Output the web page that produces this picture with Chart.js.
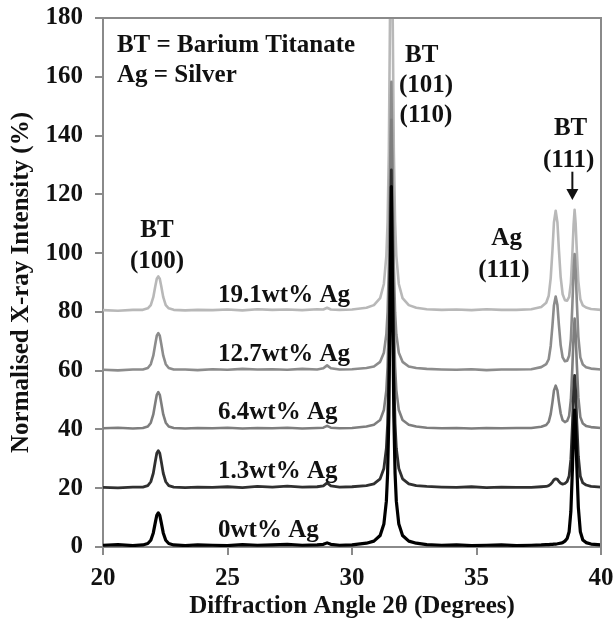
<!DOCTYPE html>
<html>
<head>
<meta charset="utf-8">
<script src="https://cdn.jsdelivr.net/npm/chart.js@4"></script>
<style>
  html, body { margin: 0; padding: 0; background: #fff; }
  #wrap { width: 615px; height: 623px; }
</style>
</head>
<body>
<div id="wrap"><canvas id="c" width="615" height="623"></canvas></div>
<script>
// Diffraction angle 2θ (degrees)
const angles = [
  20.0, 20.6, 21.2, 21.6, 21.8, 21.92, 22.02, 22.1, 22.16, 22.22, 22.28, 22.34, 22.42, 22.52, 22.64, 22.84,
  23.3, 23.8, 24.4, 25.0, 25.6, 26.2, 26.8, 27.4, 28.0, 28.6, 28.85, 29.0, 29.15, 29.5, 30.0,
  30.58, 30.88, 31.13, 31.28, 31.38, 31.43, 31.48, 31.53, 31.58, 31.63, 31.68, 31.73, 31.78, 31.88, 32.03, 32.28, 32.58,
  33.0, 33.6, 34.2, 34.8, 35.4, 36.0, 36.6, 37.2,
  37.6, 37.8, 37.9, 37.98, 38.05, 38.11, 38.18, 38.25, 38.31, 38.38, 38.46, 38.55, 38.64, 38.72, 38.79, 38.85,
  38.9, 38.94, 38.98, 39.03, 39.09, 39.17, 39.27, 39.4, 39.6, 40.0
];

// Normalised X-ray intensity (%) as plotted (stacked offsets included)
const ag0 = [
  0.6, 0.8, 0.5, 0.7, 1.2, 2.3, 4.8, 8.3, 10.8, 11.6, 10.8, 8.3, 4.8, 2.3, 1.2, 0.7,
  0.5, 0.7, 0.6, 0.5, 0.8, 0.6, 0.7, 0.9, 0.6, 0.7, 0.9, 1.4, 0.9, 0.6, 0.7,
  1.3, 2.0, 3.9, 7.8, 15.6, 25.0, 44.5, 85.0, 122.6, 85.0, 44.5, 25.0, 15.6, 7.8, 3.9, 2.0, 1.3,
  0.8, 0.6, 0.7, 0.5, 0.6, 0.7, 0.5, 0.6,
  0.7, 0.8, 0.8, 0.9, 0.9, 1.0, 1.0, 1.1, 1.2, 1.3, 1.5, 2.0, 2.9, 5.2, 12.1, 25.9,
  39.7, 46.6, 40.6, 27.3, 13.5, 5.2, 2.4, 1.5, 1.0, 0.7
];
const ag13 = [
  20.3, 20.1, 20.4, 20.4, 20.9, 22.2, 25.1, 29.1, 31.9, 32.8, 31.9, 29.1, 25.1, 22.2, 20.9, 20.4,
  20.2, 20.4, 20.3, 20.5, 20.2, 20.6, 20.4, 20.7, 20.4, 20.5, 20.8, 21.8, 20.8, 20.4, 20.5,
  20.9, 21.5, 23.2, 26.7, 33.6, 41.9, 59.2, 95.0, 128.3, 95.0, 59.2, 41.9, 33.6, 26.7, 23.2, 21.5, 20.9,
  20.6, 20.4, 20.3, 20.5, 20.2, 20.4, 20.3, 20.3,
  20.5, 20.6, 20.9, 21.4, 22.1, 22.9, 23.2, 23.0, 22.3, 21.7, 21.4, 21.6, 22.3, 24.2, 29.9, 41.3,
  52.7, 58.4, 53.4, 42.3, 30.9, 24.1, 21.8, 21.1, 20.6, 20.4
];
const ag64 = [
  40.4, 40.6, 40.3, 40.5, 41.0, 42.3, 45.1, 49.0, 51.8, 52.7, 51.8, 49.0, 45.1, 42.3, 41.0, 40.5,
  40.3, 40.5, 40.4, 40.6, 40.3, 40.5, 40.4, 40.6, 40.3, 40.5, 40.6, 41.2, 40.6, 40.4, 40.5,
  41.0, 41.6, 43.2, 46.6, 53.3, 61.4, 78.2, 113.1, 145.4, 113.1, 78.2, 61.4, 53.3, 46.6, 43.2, 41.6, 41.0,
  40.6, 40.4, 40.5, 40.3, 40.5, 40.4, 40.5, 40.5,
  40.9, 41.5, 42.6, 45.2, 49.2, 53.2, 54.9, 53.3, 49.4, 45.5, 43.1, 42.5, 42.9, 44.6, 50.1, 61.1,
  72.1, 77.7, 72.8, 62.1, 50.9, 44.2, 42.0, 41.2, 40.8, 40.5
];
const ag127 = [
  60.3, 60.1, 60.4, 60.4, 60.9, 62.2, 65.1, 69.1, 71.9, 72.8, 71.9, 69.1, 65.1, 62.2, 60.9, 60.4,
  60.4, 60.2, 60.5, 60.3, 60.6, 60.4, 60.5, 60.3, 60.6, 60.4, 60.8, 61.8, 60.8, 60.4, 60.5,
  60.9, 61.4, 63.0, 66.1, 72.4, 79.9, 95.6, 128.1, 158.3, 128.1, 95.6, 79.9, 72.4, 66.1, 63.0, 61.4, 60.9,
  60.6, 60.4, 60.3, 60.5, 60.2, 60.4, 60.4, 60.5,
  61.2, 62.2, 63.9, 68.4, 75.3, 82.2, 85.2, 82.3, 75.5, 68.7, 64.5, 63.2, 63.4, 65.1, 70.7, 82.3,
  93.9, 99.7, 94.6, 83.3, 71.5, 64.5, 62.1, 61.2, 60.7, 60.4
];
const ag191 = [
  80.6, 80.4, 80.7, 80.7, 81.2, 82.3, 85.0, 88.7, 91.3, 92.1, 91.3, 88.7, 85.0, 82.3, 81.2, 80.7,
  80.5, 80.7, 80.6, 80.8, 80.5, 80.9, 80.7, 80.8, 80.6, 80.9, 80.8, 81.4, 80.8, 80.7, 80.8,
  81.4, 82.3, 84.7, 89.5, 99.1, 110.6, 134.6, 184.4, 230.6, 184.4, 134.6, 110.6, 99.1, 89.5, 84.7, 82.3, 81.4,
  80.9, 80.7, 80.8, 80.6, 80.9, 80.7, 80.7, 80.9,
  81.7, 83.1, 85.5, 91.5, 100.9, 110.4, 114.4, 110.4, 101.1, 91.8, 86.0, 84.0, 83.8, 85.1, 89.9, 99.8,
  109.8, 114.7, 110.3, 100.5, 90.4, 84.3, 82.2, 81.5, 81.0, 80.7
];

const seriesNames = ['0wt% Ag', '1.3wt% Ag', '6.4wt% Ag', '12.7wt% Ag', '19.1wt% Ag'];
const xTicks = [20, 25, 30, 35, 40];
const yTicks = [0, 20, 40, 60, 80, 100, 120, 140, 160, 180];
const legendLines = ['BT = Barium Titanate', 'Ag = Silver'];
const peakBT100 = ['BT', '(100)'];
const peakBT110 = ['BT', '(101)', '(110)'];
const peakAg111 = ['Ag', '(111)'];
const peakBT111 = ['BT', '(111)'];

const FONT = "'Liberation Serif', 'Times New Roman', serif";
const seriesData = [ag0, ag13, ag64, ag127, ag191];
const seriesColors = ['#000000', '#303030', '#7e7e7e', '#8c8c8c', '#b8b8b8'];
const seriesWidths = [3.2, 2.8, 2.6, 2.6, 2.6];

const datasets = seriesData.map((arr, k) => ({
  label: seriesNames[k],
  data: angles.map((a, i) => ({ x: a, y: arr[i] })),
  borderColor: seriesColors[k],
  borderWidth: seriesWidths[k],
  pointRadius: 0,
  tension: 0,
  borderJoinStyle: 'round',
  fill: false
}));

// text placement (data coordinates)
const textItems = [
  { t: legendLines[0], x: 20.56, y: 168.4, a: 'left' },
  { t: legendLines[1], x: 20.56, y: 158.2, a: 'left' },
  { t: peakBT100[0], x: 22.17, y: 105.5, a: 'center' },
  { t: peakBT100[1], x: 22.17, y: 94.9, a: 'center' },
  { t: peakBT110[0], x: 32.80, y: 165.1, a: 'center' },
  { t: peakBT110[1], x: 32.97, y: 154.9, a: 'center' },
  { t: peakBT110[2], x: 32.97, y: 144.7, a: 'center' },
  { t: peakAg111[0], x: 36.21, y: 102.8, a: 'center' },
  { t: peakAg111[1], x: 36.10, y: 92.0, a: 'center' },
  { t: peakBT111[0], x: 38.78, y: 140.2, a: 'center' },
  { t: peakBT111[1], x: 38.70, y: 129.4, a: 'center' },
  { t: seriesNames[4], x: 24.62, y: 83.4, a: 'left' },
  { t: seriesNames[3], x: 24.62, y: 63.4, a: 'left' },
  { t: seriesNames[2], x: 24.62, y: 43.4, a: 'left' },
  { t: seriesNames[1], x: 24.62, y: 23.4, a: 'left' },
  { t: seriesNames[0], x: 24.62, y: 3.5, a: 'left' }
];

const annotatePlugin = {
  id: 'annotate',
  afterDatasetsDraw(chart) {
    const { ctx, chartArea, scales } = chart;
    const xs = scales.x, ys = scales.y;
    ctx.save();
    ctx.strokeStyle = '#8a8a8a';
    ctx.lineWidth = 2;
    ctx.beginPath();
    ctx.moveTo(chartArea.left, chartArea.top);
    ctx.lineTo(chartArea.right, chartArea.top);
    ctx.lineTo(chartArea.right, chartArea.bottom);
    ctx.stroke();
    ctx.fillStyle = '#111';
    ctx.font = "bold 25px " + FONT;
    ctx.textBaseline = 'alphabetic';
    textItems.forEach(it => {
      ctx.textAlign = it.a;
      ctx.fillText(it.t, xs.getPixelForValue(it.x), ys.getPixelForValue(it.y));
    });
    const ax = xs.getPixelForValue(38.85);
    const y1 = ys.getPixelForValue(127.7);
    const y2 = ys.getPixelForValue(118.1);
    ctx.strokeStyle = '#111';
    ctx.lineWidth = 2;
    ctx.beginPath();
    ctx.moveTo(ax, y1);
    ctx.lineTo(ax, y2 - 10);
    ctx.stroke();
    ctx.beginPath();
    ctx.moveTo(ax - 6, y2 - 11);
    ctx.lineTo(ax + 6, y2 - 11);
    ctx.lineTo(ax, y2);
    ctx.closePath();
    ctx.fill();
    ctx.restore();
  }
};

new Chart(document.getElementById('c'), {
  type: 'line',
  data: { datasets },
  options: {
    responsive: false,
    animation: false,
    events: [],
    layout: { padding: { top: 18, right: 14, left: 0, bottom: 0 } },
    plugins: { legend: { display: false }, tooltip: { enabled: false } },
    scales: {
      x: {
        type: 'linear',
        min: 20, max: 40,
        afterFit: s => { s.height = 76; s.paddingLeft = 0; s.paddingRight = 0; },
        afterBuildTicks: s => { s.ticks = xTicks.map(v => ({ value: v })); },
        ticks: { color: '#111', font: { family: FONT, size: 25, weight: 'bold' }, padding: 9, maxRotation: 0 },
        grid: { drawOnChartArea: false, drawTicks: true, tickLength: 8, color: '#8a8a8a', lineWidth: 2 },
        border: { display: true, color: '#8a8a8a', width: 2 },
        title: { display: true, text: 'Diffraction Angle 2θ (Degrees)', color: '#111',
                 font: { family: FONT, size: 25, weight: 'bold' }, padding: { top: 0, bottom: 1 } }
      },
      y: {
        min: 0, max: 180,
        afterFit: s => { s.width = 103; s.paddingTop = 0; s.paddingBottom = 0; },
        afterBuildTicks: s => { s.ticks = yTicks.map(v => ({ value: v })); },
        ticks: { color: '#111', font: { family: FONT, size: 25, weight: 'bold' }, padding: 12 },
        grid: { drawOnChartArea: false, drawTicks: true, tickLength: 8, color: '#8a8a8a', lineWidth: 2 },
        border: { display: true, color: '#8a8a8a', width: 2 },
        title: { display: true, text: 'Normalised X-ray Intensity (%)', color: '#111',
                 font: { family: FONT, size: 25, weight: 'bold' }, padding: { top: 7, bottom: 0 } }
      }
    }
  },
  plugins: [annotatePlugin]
});
</script>
</body>
</html>
